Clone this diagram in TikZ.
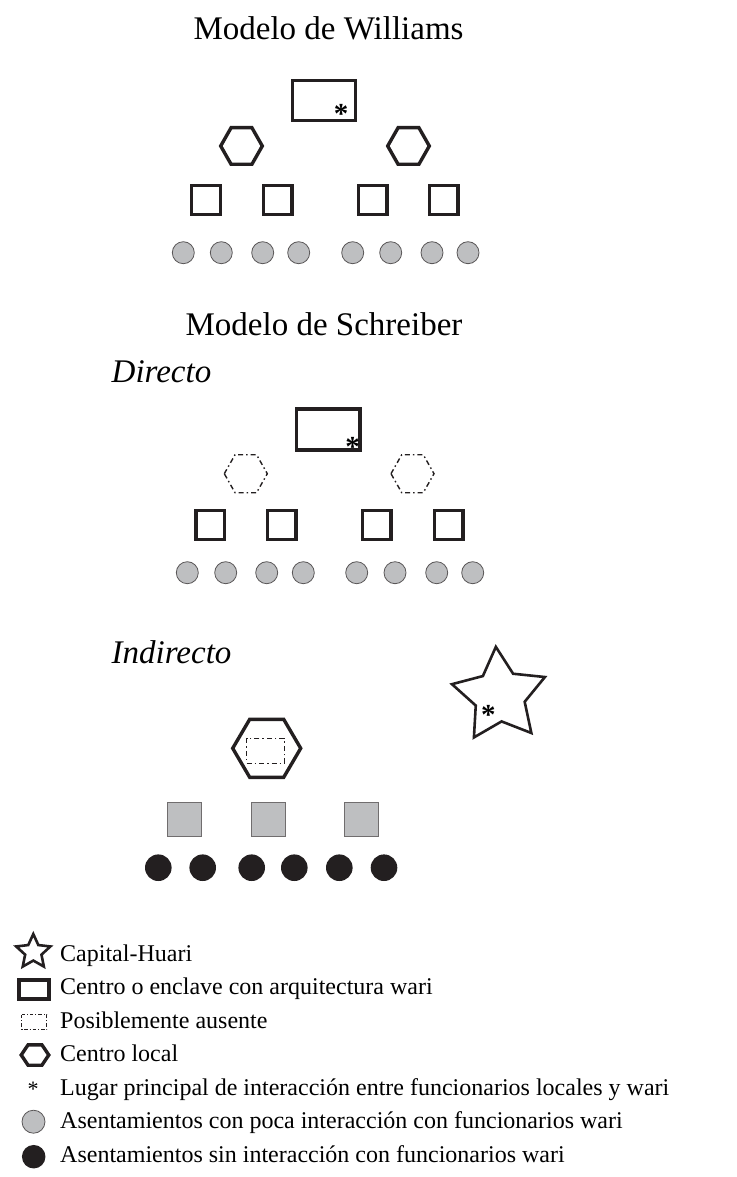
\documentclass[tikz,border=0pt]{standalone}
\usepackage{fontspec}
\setmainfont{Liberation Serif}
\usetikzlibrary{shapes.geometric}
\definecolor{ink}{HTML}{231F20}
\definecolor{fillgray}{HTML}{BEBFC1}
\newcommand\hexpath[4]{({#1-#3},{#2}) -- ({#1-#3/2},{#2-#4}) -- ({#1+#3/2},{#2-#4}) -- ({#1+#3},{#2}) -- ({#1+#3/2},{#2+#4}) -- ({#1-#3/2},{#2+#4}) -- cycle}
\tikzset{
  thickline/.style={draw=ink, line width=3.4pt, line join=miter},
  dashdot/.style={draw=ink, line width=1.4pt, dash pattern=on 5pt off 3pt on 1.5pt off 3pt},
  graydot/.style={circle, fill=fillgray, draw=ink!75, line width=0.8pt, minimum size=22pt, inner sep=0pt},
  blackdot/.style={circle, fill=ink, minimum size=26.6pt, inner sep=0pt},
  sqbox/.style={rectangle, draw=ink, line width=3.4pt, minimum size=28.6pt, inner sep=0pt},
  graybox/.style={rectangle, fill=fillgray, draw=ink!65, line width=1pt, minimum size=34pt, inner sep=0pt},
  ttl/.style={font=\fontsize{33}{40}\selectfont, anchor=base, inner sep=0pt},
  sub/.style={font=\fontsize{33}{40}\selectfont\itshape, anchor=base west, inner sep=0pt},
  lgd/.style={font=\fontsize{24}{28}\selectfont, anchor=base west, inner sep=0pt},
  ast/.style={font=\fontsize{29}{32}\selectfont\bfseries, anchor=base, inner sep=0pt},
  starshape/.style={star, star points=5, draw=ink, line width=2.6pt, inner sep=0pt, line join=miter}
}
\begin{document}
\begin{tikzpicture}[x=1pt,y=-1pt]
\useasboundingbox (0,0) rectangle (736,1177);

% ---------------- Modelo de Williams ----------------
\node[ttl] (tw) at (328.5,40) {Modelo de Williams};
\draw[thickline] (292.7,80.7) rectangle (355.3,120.3);
\node[ast] (aw) at (341,123.5) {*};
\draw[thickline] \hexpath{241.5}{146}{20.8}{18.3};
\draw[thickline] \hexpath{408.5}{146}{20.8}{18.3};
\foreach \x [count=\i] in {206,277.5,372.5,443.5}
  \node[sqbox] (ws\i) at (\x,200) {};
\foreach \x [count=\i] in {183.3,221.3,262.7,298.7,352.7,390.7,432,468}
  \node[graydot] (wc\i) at (\x,252.7) {};

% ---------------- Modelo de Schreiber ----------------
\node[ttl] (ts) at (324,335) {Modelo de Schreiber};
\node[sub] (td) at (111.5,382) {Directo};
\draw[thickline] (296.7,409) rectangle (360,450);
\node[ast] (ad) at (352.7,456) {*};
\draw[dashdot] \hexpath{245.8}{473.7}{21.5}{19};
\draw[dashdot] \hexpath{412.5}{473.7}{21.5}{19};
\foreach \x [count=\i] in {210.3,281.7,376.7,448.7}
  \node[sqbox] (ds\i) at (\x,525) {};
\foreach \x [count=\i] in {187.3,225.7,266.7,303.3,356.7,395,436.7,472.7}
  \node[graydot] (dc\i) at (\x,572.7) {};

% ---------------- Indirecto ----------------
\node[sub] (ti) at (111.5,663) {Indirecto};
\draw[thickline] \hexpath{266.7}{748.3}{34}{29};
\draw[dashdot] (246.7,738.3) rectangle (284.3,763.3);
\foreach \x [count=\i] in {184.5,268.8,361.8}
  \node[graybox] (is\i) at (\x,819.2) {};
\foreach \x [count=\i] in {158.3,202.7,251.7,294.3,339.3,384}
  \node[blackdot] (ic\i) at (\x,867.7) {};
\node[starshape, star point ratio=1.9, minimum size=98pt, shape border rotate=4.4] (cap) at (499.6,695.7) {};
\node[ast] (ac) at (488.3,724) {*};

% ---------------- Legend ----------------
\node[starshape, star point ratio=2.1, minimum size=36pt] (l1) at (33.3,952) {};
\node[lgd] (t1) at (60,961) {Capital-Huari};
\draw[thickline] (18.9,979.9) rectangle (49.1,999.1);
\node[lgd] (t2) at (60,994.5) {Centro o enclave con arquitectura wari};
\draw[dashdot, line width=1.1pt, dash pattern=on 3.5pt off 2pt on 1pt off 2pt] (21.7,1014.8) rectangle (46.7,1029.5);
\node[lgd] (t3) at (60,1028) {Posiblemente ausente};
\draw[thickline] \hexpath{35}{1055}{13.8}{10.2};
\node[lgd] (t4) at (60,1061.5) {Centro local};
\node[lgd, anchor=base, font=\fontsize{22}{24}\selectfont] (l5) at (33,1096) {*};
\node[lgd] (t5) at (60,1095) {Lugar principal de interacción entre funcionarios locales y wari};
\node[graydot, minimum size=23pt] (l6) at (33.5,1121.7) {};
\node[lgd] (t6) at (60,1128.5) {Asentamientos con poca interacción con funcionarios wari};
\node[blackdot, minimum size=23.5pt] (l7) at (33.7,1156.7) {};
\node[lgd] (t7) at (60,1162.5) {Asentamientos sin interacción con funcionarios wari};
\end{tikzpicture}
\end{document}
